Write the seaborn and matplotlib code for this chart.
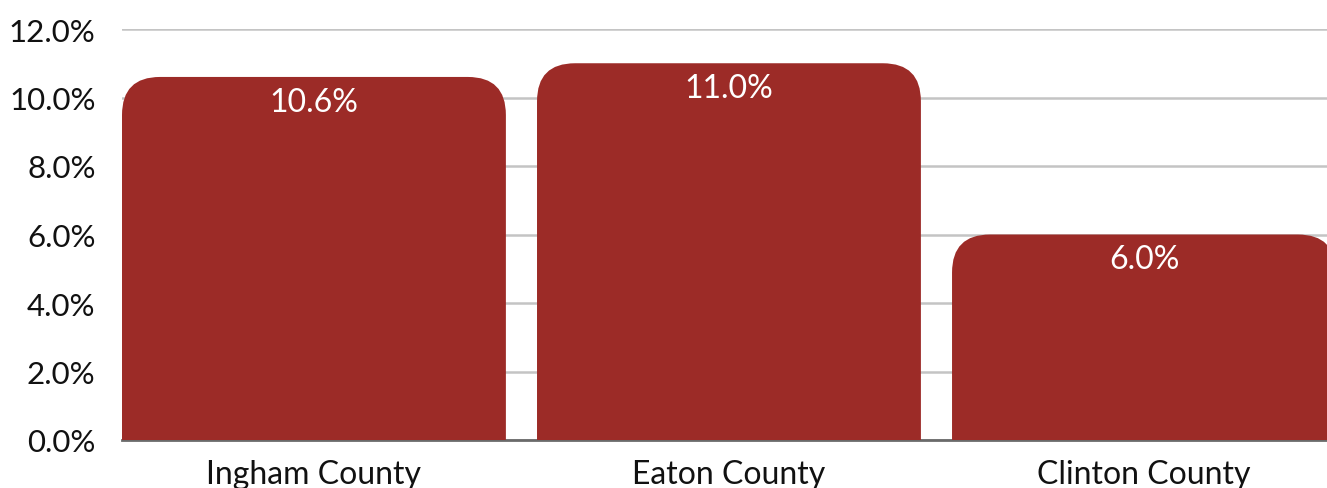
import numpy as np
import pandas as pd
import matplotlib
matplotlib.use("Agg")
import matplotlib.pyplot as plt
import seaborn as sns
from matplotlib.patches import FancyBboxPatch
from matplotlib.ticker import FuncFormatter

counties = ["Ingham County", "Eaton County", "Clinton County"]
rates = [10.6, 11.0, 6.0]
yticks = [0, 2, 4, 6, 8, 10, 12]

bar_color = "#9C2B27"

sns.set_theme(style="white")
plt.rcParams["font.family"] = ["Lato", "DejaVu Sans"]

df = pd.DataFrame({"county": counties, "rate": rates})

fig = plt.figure(figsize=(13.27, 4.89), dpi=100)
ax = fig.add_axes([122 / 1327, 48 / 489, 1 - 122 / 1327, 411 / 489])

sns.barplot(data=df, x="county", y="rate", color=bar_color, width=0.925,
            saturation=1, ax=ax, zorder=2)

# swap the plain bars for ones with rounded tops
px_x = 415.0          # pixels per category
px_y = 411.0 / 12     # pixels per percent
radius_px = 38
for p in list(ax.patches):
    x0, w, h = p.get_x(), p.get_width(), p.get_height()
    p.remove()
    rx = radius_px / px_x
    fb = FancyBboxPatch((x0 + rx, -2 + rx * px_x / px_y),
                        w - 2 * rx, h + 2 - 2 * rx * px_x / px_y,
                        boxstyle=f"round,pad={rx},rounding_size={rx}",
                        mutation_aspect=px_x / px_y,
                        facecolor=bar_color, edgecolor="none", zorder=2)
    ax.add_patch(fb)

for i, v in enumerate(rates):
    ax.annotate(f"{v:.1f}%", (i, v), xytext=(0, -7), textcoords="offset points",
                ha="center", va="top", color="white", fontsize=23, zorder=3)

ax.set_xlim(-0.4625, 2.441)
ax.set_ylim(0, 12)
ax.set_yticks(yticks)
ax.yaxis.set_major_formatter(FuncFormatter(lambda v, _: f"{v:.1f}%"))
ax.grid(axis="y", color="#c4c4c4", linewidth=1.8, zorder=0)
ax.set_axisbelow(True)
for s in ["top", "right", "left"]:
    ax.spines[s].set_visible(False)
ax.spines["bottom"].set_color("#6a6a6a")
ax.spines["bottom"].set_linewidth(2)
ax.spines["bottom"].set_zorder(1)
ax.tick_params(axis="y", length=0, pad=19, labelsize=22.5, labelcolor="#111111")
ax.tick_params(axis="x", length=0, pad=14, labelsize=23, labelcolor="#111111")
ax.set_xlabel("")
ax.set_ylabel("")

fig.savefig("out.png", dpi=100)
